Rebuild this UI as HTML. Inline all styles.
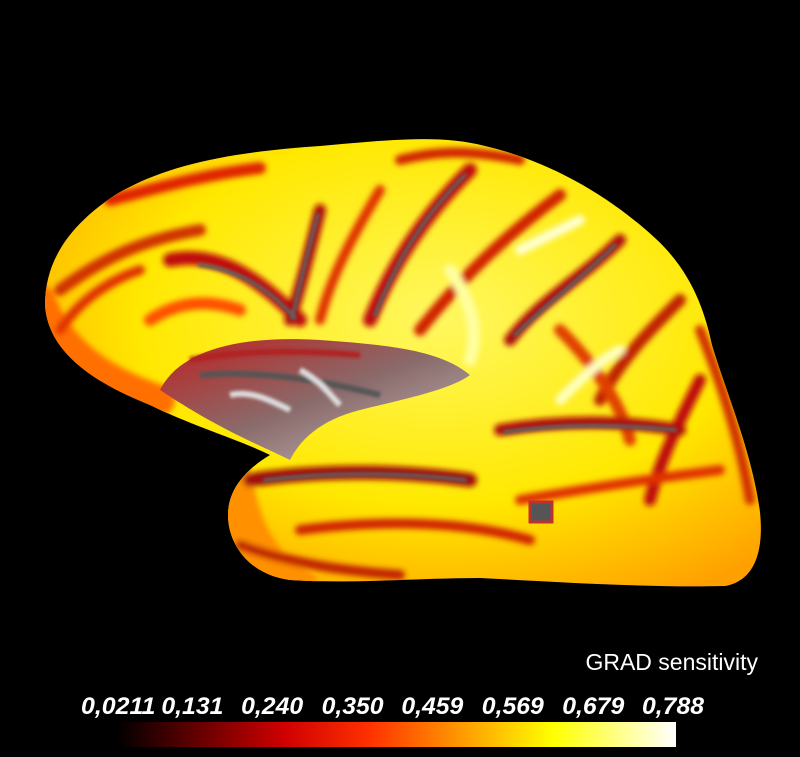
<!DOCTYPE html>
<html><head><meta charset="utf-8"><style>
html,body{margin:0;padding:0;background:#000;}
body{width:800px;height:757px;overflow:hidden;position:relative;font-family:"Liberation Sans",sans-serif;}
svg{position:absolute;left:0;top:0;}
</style></head><body>
<svg width="800" height="757" viewBox="0 0 800 757">
<defs>
<linearGradient id="cb" x1="0" x2="1" y1="0" y2="0">
<stop offset="0" stop-color="#000"/>
<stop offset="0.3" stop-color="#d00000"/>
<stop offset="0.45" stop-color="#ff3000"/>
<stop offset="0.6" stop-color="#ff9000"/>
<stop offset="0.78" stop-color="#ffff00"/>
<stop offset="1" stop-color="#ffffff"/>
</linearGradient>
<radialGradient id="bg" cx="0.55" cy="0.4" r="0.7">
<stop offset="0" stop-color="#fff860"/>
<stop offset="0.6" stop-color="#ffe800"/>
<stop offset="1" stop-color="#ffa000"/>
</radialGradient>
<linearGradient id="ins" x1="0" x2="1" y1="0" y2="1">
<stop offset="0" stop-color="#c02020"/>
<stop offset="0.5" stop-color="#8a6a6a"/>
<stop offset="1" stop-color="#c8c0c0"/>
</linearGradient>
<filter id="blur"><feGaussianBlur stdDeviation="3"/></filter>
<filter id="blur2"><feGaussianBlur stdDeviation="1.5"/></filter>
<clipPath id="clip"><path id="outline" d="M45,305 C45,260 70,225 115,195 C165,165 230,152 320,146 C390,140 440,134 485,146 C545,160 605,192 655,238 C692,272 705,312 712,345 C726,392 752,452 760,512 C765,562 748,582 725,586 C650,588 560,582 480,578 C420,578 350,584 290,580 C250,575 228,545 228,515 C228,490 245,470 270,455 C240,440 190,425 150,405 C100,385 48,355 45,305 Z"/></clipPath>
</defs>
<g>
<use href="#outline" fill="url(#bg)"/>
<g clip-path="url(#clip)" filter="url(#blur)" fill="none" stroke-linecap="round">
<path d="M40,300 C60,350 100,380 160,400" stroke="#ff7000" stroke-width="30"/>
<path d="M230,470 C240,520 250,560 300,590" stroke="#ff9000" stroke-width="40"/>
<path d="M110,200 C150,190 200,175 260,168" stroke="#e02000" stroke-width="12"/>
<path d="M60,290 C100,260 140,240 200,230" stroke="#d03000" stroke-width="12"/>
<path d="M170,260 C220,250 260,280 300,320" stroke="#c01010" stroke-width="14"/>
<path d="M320,210 C310,250 300,290 290,320" stroke="#b01010" stroke-width="12"/>
<path d="M380,190 C350,240 330,280 320,320" stroke="#e03000" stroke-width="10"/>
<path d="M470,170 C420,220 390,270 370,320" stroke="#c01010" stroke-width="14"/>
<path d="M560,195 C500,240 460,280 420,330" stroke="#d02000" stroke-width="12"/>
<path d="M620,240 C580,280 540,300 510,340" stroke="#b01010" stroke-width="12"/>
<path d="M400,160 C440,150 470,150 520,160" stroke="#d02000" stroke-width="10"/>
<path d="M680,300 C650,330 620,360 600,400" stroke="#c02000" stroke-width="12"/>
<path d="M560,330 C590,360 620,400 630,440" stroke="#e04000" stroke-width="12"/>
<path d="M700,380 C680,420 660,460 650,500" stroke="#c01010" stroke-width="12"/>
<path d="M500,430 C560,420 620,420 680,430" stroke="#b01010" stroke-width="12"/>
<path d="M250,480 C320,470 400,470 470,480" stroke="#a01010" stroke-width="14"/>
<path d="M300,530 C380,520 460,520 530,540" stroke="#d02000" stroke-width="10"/>
<path d="M240,545 C280,560 330,570 400,575" stroke="#c02000" stroke-width="10"/>
<path d="M520,500 C580,490 640,480 720,470" stroke="#e03000" stroke-width="10"/>
<path d="M60,330 C80,300 110,280 140,270" stroke="#e03000" stroke-width="10"/>
<path d="M150,320 C180,300 210,300 240,310" stroke="#ff5000" stroke-width="12"/>
<path d="M700,330 C720,380 740,440 750,500" stroke="#d03000" stroke-width="10"/>
<path d="M450,270 C470,300 480,330 470,360" stroke="#ffffa0" stroke-width="12"/>
<path d="M520,250 C540,240 560,230 580,220" stroke="#ffffd0" stroke-width="10"/>
<path d="M560,400 C580,380 600,360 620,350" stroke="#ffffc0" stroke-width="10"/>
</g>
<g clip-path="url(#clip)" filter="url(#blur2)" fill="none" stroke-linecap="round" stroke="#606060" stroke-width="4">
<path d="M200,265 C240,270 270,290 295,318"/>
<path d="M465,175 C420,220 395,265 375,315"/>
<path d="M615,245 C580,280 545,305 515,335"/>
<path d="M265,480 C330,472 400,472 465,480"/>
<path d="M505,432 C560,424 620,424 675,430"/>
<path d="M318,215 C308,250 300,285 292,318"/>
</g>
<path d="M160,390 C180,350 240,335 320,340 C390,345 440,350 470,375 C450,390 400,400 360,410 C320,420 300,440 290,460 C260,445 220,430 160,390 Z" fill="url(#ins)"/>
<g filter="url(#blur2)" fill="none" stroke-width="6">
<path d="M200,375 C260,370 320,380 380,395" stroke="#555"/>
<path d="M230,395 C250,390 270,400 290,410" stroke="#ddd"/>
<path d="M300,370 C320,380 330,395 340,405" stroke="#ddd"/>
<path d="M190,360 C240,350 300,350 360,355" stroke="#b02020"/>
</g>
<rect x="530" y="502" width="22" height="20" fill="#555" stroke="#c03030" stroke-width="3"/>
</g>
<text x="758" y="670" text-anchor="end" fill="#fff" font-size="23" font-family="Liberation Sans, sans-serif">GRAD sensitivity</text>
<rect x="117" y="722" width="559" height="25" fill="url(#cb)"/>
<g id="ticks"></g>
</svg>
<script>
const tickLabels = ["0,0211","0,131","0,240","0,350","0,459","0,569","0,679","0,788"];
const tickValues = [0.0211,0.131,0.240,0.350,0.459,0.569,0.679,0.788];
const tickMin = 0.0211, tickMax = 0.788;
const g = document.getElementById('ticks');
function xScale(v){ return 81 + (v - tickMin)/(tickMax - tickMin)*(642-81); }
tickValues.forEach((v,i)=>{
  const t = document.createElementNS('http://www.w3.org/2000/svg','text');
  
  
  t.setAttribute('x', xScale(v));
  t.setAttribute('y', 714);
  t.setAttribute('fill','#fff');
  t.setAttribute('font-size','24');
  t.setAttribute('font-style','italic');
  t.setAttribute('font-weight','bold');
  t.setAttribute('textLength', String(tickLabels[i].length * 12.4));
  t.setAttribute('lengthAdjust','spacingAndGlyphs');
  t.setAttribute('font-family','Liberation Sans, sans-serif');
  t.textContent = tickLabels[i];
  g.appendChild(t);
});
</script>
</body></html>
